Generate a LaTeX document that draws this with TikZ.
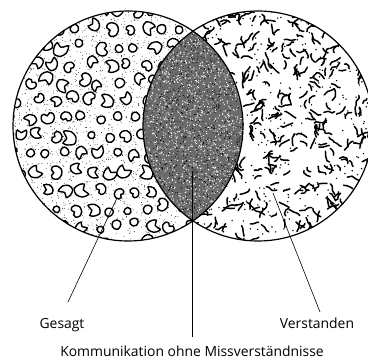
\documentclass[tikz,border=0pt]{standalone}
\usepackage{fontspec}
\setmainfont{Open Sans}
\begin{document}
\begin{tikzpicture}[x=1pt,y=-1pt,
  outline/.style={line width=1.2pt},
  blob/.style={line width=1.4pt, fill=white},
  squig/.style={line width=1.5pt, line cap=round, line join=round},
  leader/.style={line width=0.6pt},
  lbl/.style={font=\fontsize{13.9}{16}\selectfont, anchor=base, inner sep=0pt}]
\clip (0,0) rectangle (368,361);
\fill[white] (0,0) rectangle (368,361);
\coordinate (L) at (128,126);
\coordinate (R) at (258,126);
\pgfmathsetseed{7}
% ---- left circle texture: stipple + blobs
\begin{scope}
  \clip (L) circle[radius=115pt];
  \foreach \i in {1,...,2600}{
    \pgfmathsetmacro\px{13+230*rnd}
    \pgfmathsetmacro\py{11+230*rnd}
    \fill (\px,\py) circle[radius=0.4pt];
  }
  \foreach \gx in {0,...,13}{
    \foreach \gy in {0,...,13}{
      \pgfmathsetmacro\px{10+\gx*18+4*rand+mod(\gy,2)*9}
      \pgfmathsetmacro\py{10+\gy*18+4*rand}
      \pgfmathsetmacro\rot{360*rnd}
      \pgfmathsetmacro\sc{1.15+0.55*rnd}
      \pgfmathtruncatemacro\kind{3*rnd}
      \ifcase\kind
        \draw[blob,shift={(\px,\py)},rotate=\rot,scale=\sc] plot[smooth cycle] coordinates {(-4,-1) (-2,-3.5) (1.5,-3.5) (4,-1) (3.5,2) (1.5,2.6) (0,1.2) (-2,2.6) (-3.8,1.5)};
      \or
        \draw[blob,shift={(\px,\py)},rotate=\rot,scale=\sc] plot[smooth cycle] coordinates {(-3.5,-4) (1,-4) (4,-1) (3.5,3) (-0.5,4) (-3.5,3) (-1.5,0)};
      \else
        \draw[blob,shift={(\px,\py)},rotate=\rot,scale=0.8*\sc] plot[smooth cycle] coordinates {(-3,-2.5) (0,-3.5) (3,-2.5) (3.5,0.5) (1.5,3) (-1.5,3) (-3.5,0.5)};
      \fi
    }
  }
\end{scope}
% ---- right circle texture: squiggles
\begin{scope}
  \clip (R) circle[radius=115pt];
  \foreach \i in {1,...,480}{
    \pgfmathsetmacro\px{143+230*rnd}
    \pgfmathsetmacro\py{11+230*rnd}
    \pgfmathsetmacro\a{360*rnd}
    \pgfmathsetmacro\b{\a+50*rand}
    \pgfmathsetmacro\c{\b+60*rand}
    \pgfmathsetmacro\len{2.5+2.5*rnd}
    \draw[squig] (\px,\py) -- ++(\a:\len) -- ++(\b:\len) -- ++(\c:0.6*\len);
  }
  \foreach \i in {1,...,450}{
    \pgfmathsetmacro\px{143+230*rnd}
    \pgfmathsetmacro\py{11+230*rnd}
    \fill (\px,\py) circle[radius=0.8pt];
  }
\end{scope}
% ---- lens: dense dark stipple
\begin{scope}
  \clip (L) circle[radius=115pt];
  \clip (R) circle[radius=115pt];
  \fill[black!58] (140,0) rectangle (250,250);
  \foreach \i in {1,...,2000}{
    \pgfmathsetmacro\px{142+104*rnd}
    \pgfmathsetmacro\py{30+192*rnd}
    \fill[white] (\px,\py) circle[radius=0.6pt];
  }
  \foreach \i in {1,...,1200}{
    \pgfmathsetmacro\px{142+104*rnd}
    \pgfmathsetmacro\py{30+192*rnd}
    \fill[black] (\px,\py) circle[radius=0.55pt];
  }
\end{scope}
% ---- outlines
\draw[outline] (L) circle[radius=115pt];
\draw[outline] (R) circle[radius=115pt];
% ---- labels and leaders
\node[lbl] (gesagt) at (62,329) {Gesagt};
\node[lbl] (verst) at (317,329) {Verstanden};
\node[lbl] (komm) at (192,357) {Kommunikation ohne Missverständnisse};
\coordinate (g1) at (117,198);
\coordinate (g2) at (68,302);
\coordinate (v1) at (273,193);
\coordinate (v2) at (320,312);
\coordinate (k1) at (192,172);
\coordinate (k2) at (192,337);
\draw[leader] (g1) -- (g2);
\draw[leader] (v1) -- (v2);
\draw[leader] (k1) -- (k2);
\end{tikzpicture}
\end{document}
